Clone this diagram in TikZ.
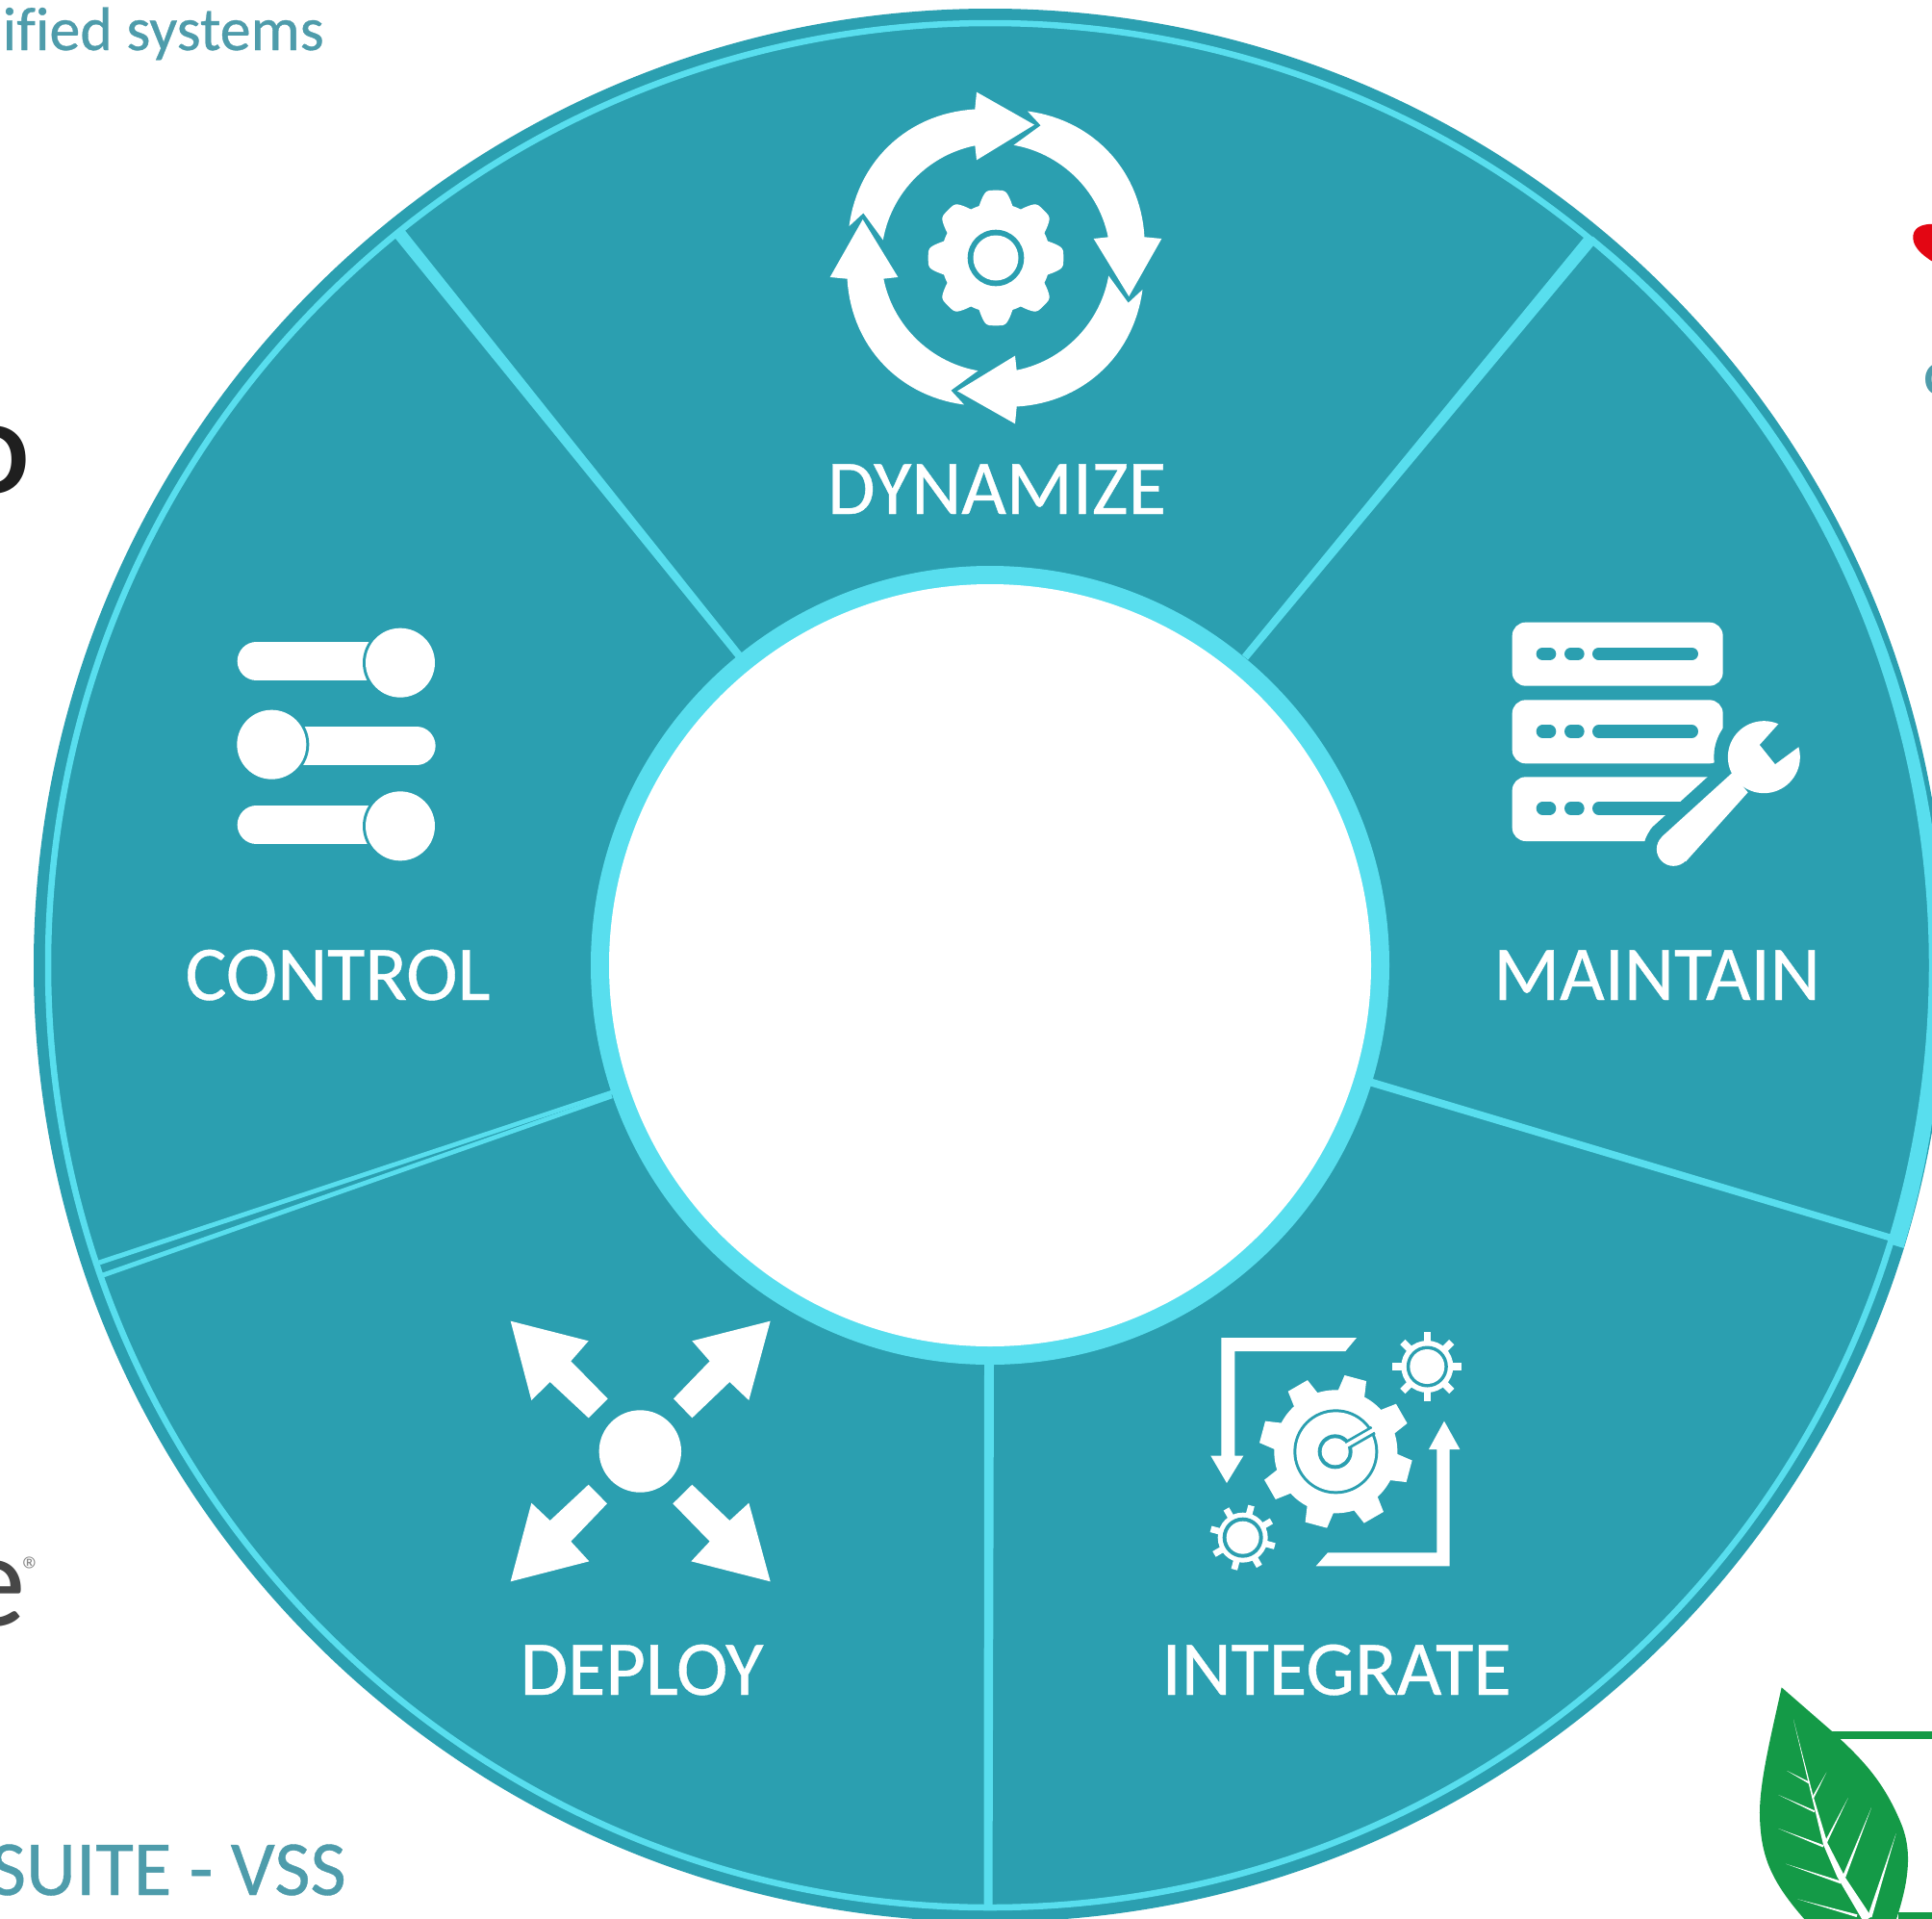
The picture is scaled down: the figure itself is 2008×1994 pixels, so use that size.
\documentclass[tikz,border=0pt]{standalone}
\usepackage{fontspec}
\usetikzlibrary{calc}
\setmainfont[Ligatures=NoCommon,FakeBold=0.5]{Carlito}
\newfontfamily\lsans{Liberation Sans}
\newfontfamily\plainc[Ligatures=NoCommon]{Carlito}
\definecolor{wheel}{HTML}{2B9FB0}
\definecolor{rim}{HTML}{58DEEE}
\definecolor{capt}{HTML}{4E9CAB}
\definecolor{leafg}{HTML}{149A47}
\definecolor{heartr}{HTML}{E30613}
\newcommand{\spokeshape}[4]{%
  \fill[rim] ($#1!#3/2!90:#2$) -- ($#2!#4/2!-90:#1$) -- ($#2!#4/2!90:#1$) -- ($#1!#3/2!-90:#2$) -- cycle;}
\newcommand{\veinshape}[5]{%
  \fill[white] (#1,#2) -- ($(#3,#4)!#5!90:(#1,#2)$) -- ($(#3,#4)!#5!-90:(#1,#2)$) -- cycle;}
\tikzset{
  wheellabel/.style={text=white,font=\fontsize{80.5}{90}\selectfont,inner sep=0pt,anchor=base},
  captiontext/.style={text=capt,inner sep=0pt,anchor=base east},
  zoomframe/.style={x=0.33333pt,y=-0.33333pt},
}
\begin{document}
\begin{tikzpicture}[x=1pt,y=1pt]
\useasboundingbox (0,0) rectangle (2008,-1994);
\clip (0,0) rectangle (2008,-1994);
\fill[white] (0,0) rectangle (2008,-1994);

% ---- cropped surroundings
\node[captiontext,font=\fontsize{64}{70}\selectfont] (capA) at (337,-52) {ified systems};
\node[captiontext,font=\fontsize{81}{90}\selectfont] (capB) at (360,-1969) {SUITE - VSS};
\node[inner sep=0pt,anchor=base east,text=black!88,font=\lsans\bfseries\fontsize{100}{110}\selectfont] (logoO) at (31,-512) {O};
\node[inner sep=0pt,anchor=base east,text=black!72,font=\plainc\fontsize{140}{150}\selectfont] (logoE) at (27,-1689) {e};
\node[inner sep=0pt,text=black!45,font=\plainc\fontsize{40}{44}\selectfont] (logoR) at (34,-1632) {®};
\node[inner sep=0pt,anchor=base west,text=capt,font=\plainc\bfseries\fontsize{50}{60}\selectfont] (capC) at (2000,-410) {C};

% heart
\begin{scope}[shift={(1900,-200)},zoomframe]
\fill[heartr] (330,98) .. controls (290,98) and (262,110) .. (265,145) .. controls (268,175) and (300,200) .. (330,218) -- cycle;
\end{scope}

% leaf
\begin{scope}[shift={(1780,-1720)},zoomframe]
\fill[leafg] (370,238) rectangle (700,262);
\fill[leafg] (580,800) rectangle (700,830);
\fill[leafg] (215,100) -- (370,235) .. controls (450,310) and (530,380) .. (590,530) .. controls (625,620) and (610,720) .. (560,860) -- (320,860) .. controls (190,720) and (150,640) .. (147,500) .. controls (145,400) and (180,260) .. (215,100) -- cycle;
\fill[white] (252,200) -- (298,395) -- (345,590) -- (388,690) -- (470,830) -- (495,815) -- (412,690) -- (358,585) -- (314,440) -- cycle;
\veinshape{232}{360}{302}{398}{1pt}
\veinshape{355}{365}{312}{445}{1pt}
\veinshape{205}{435}{318}{487}{1pt}
\veinshape{422}{445}{352}{585}{1.3pt}
\veinshape{205}{540}{345}{595}{1.2pt}
\veinshape{495}{475}{410}{690}{1.7pt}
\veinshape{228}{650}{400}{708}{1.4pt}
\veinshape{572}{555}{490}{815}{2.2pt}
\veinshape{265}{760}{450}{812}{1.4pt}
\end{scope}

% ---- wheel
\coordinate (hub) at (1029,-1003);
\fill[wheel] (hub) circle[radius=994pt];
\draw[rim,line width=6.5pt] (hub) circle[radius=979pt];
% widening rim on the right-hand sector
\fill[rim,shift={(hub)}] plot[domain=50.4:-17.2,samples=40] (\x:{983+11*(50.4-\x)/67.6}) -- plot[domain=-17.2:50.4,samples=40] (\x:977) -- cycle;

% spokes
\coordinate (s1a) at (413,-240);  \coordinate (s1b) at (768,-681);
\coordinate (s2a) at (1652,-250); \coordinate (s2b) at (1294,-683);
\coordinate (s3a) at (1968,-1287);\coordinate (s3b) at (1423,-1124);
\coordinate (s4a) at (1027,-1982);\coordinate (s4b) at (1028,-1415);
\coordinate (s5a) at (103,-1312); \coordinate (s5b) at (636,-1135);
\coordinate (s6a) at (107,-1325); \coordinate (s6b) at (636,-1139);
\spokeshape{(s1a)}{(s1b)}{13pt}{8pt}
\spokeshape{(s2a)}{(s2b)}{13pt}{8pt}
\spokeshape{(s3a)}{(s3b)}{7pt}{8pt}
\spokeshape{(s4a)}{(s4b)}{9pt}{10pt}
\spokeshape{(s5a)}{(s5b)}{5pt}{4.5pt}
\spokeshape{(s6a)}{(s6b)}{5pt}{4.5pt}

% hub disc
\fill[rim] (hub) circle[radius=415pt];
\fill[white] (hub) circle[radius=396pt];

% ---- labels
\node[wheellabel] (lblDyn) at (1036,-534) {DYNAMIZE};
\node[wheellabel] (lblCtl) at (351,-1039) {CONTROL};
\node[wheellabel] (lblMnt) at (1722,-1039) {MAINTAIN};
\node[wheellabel] (lblDep) at (667,-1761) {DEPLOY};
\node[wheellabel] (lblInt) at (1389,-1761) {INTEGRATE};

% ---- dynamize icon
\foreach \r in {0,90,180,270}{
\begin{scope}[shift={(1035,-268)},x=0.33333pt,y=0.33333pt,rotate=\r]
\fill[white] plot[domain=167.8:98,samples=30] (\x:{468+15*sin(180*(167.8-\x)/69.8)}) -- (-60,517) -- (120,415) -- (-60,305) -- plot[domain=100.5:171,samples=30] (\x:{356-2*sin(180*(\x-100.5)/70.5)}) -- (-413,140) -- cycle;
\end{scope}}
\begin{scope}[shift={(1035,-268)},x=0.33333pt,y=0.33333pt]
\fill[white,draw=white,line width=8pt,line join=round] plot[domain=0:360,samples=241] (\x:{max(158,min(199,178+34*cos(8*\x)))}) -- cycle;
\fill[wheel] (0,0) circle[radius=29.3pt];
\fill[white] (0,0) circle[radius=23.5pt];
\end{scope}

% ---- maintain icon
\begin{scope}[shift={(1530,-620)},zoomframe]
\fill[white,rounded corners=14pt] (125,80) rectangle (782,278);
\fill[white,rounded corners=14pt] (125,322) rectangle (782,520);
\fill[white,rounded corners=14pt] (125,562) rectangle (782,762);
\foreach \y in {178,420,660}{
  \draw[wheel,line width=13.3pt,line cap=round] (220,\y) -- (242,\y);
  \draw[wheel,line width=13.3pt,line cap=round] (308,\y) -- (330,\y);
  \draw[wheel,line width=13.3pt,line cap=round] (395,\y) -- (685,\y);
}
% wrench halo
\fill[wheel,draw=wheel,line width=28pt,line join=round] (810,550) -- (860,610) -- (666,826) -- (592,748) -- cycle;
\fill[wheel] (910,500) circle[radius=52pt];
\fill[wheel] (628,787) circle[radius=31pt];
% wrench
\fill[white] (910,500) circle[radius=37.5pt];
\fill[white] (810,550) -- (860,610) -- (666,826) -- (592,748) -- cycle;
\fill[white] (628,787) circle[radius=17.5pt];
\fill[wheel] (975,375) -- (897,462) -- (945,522) -- (1040,452) -- (1060,375) -- cycle;
\end{scope}

% ---- control icon
\begin{scope}[shift={(230,-630)},zoomframe]
\draw[white,line width=39.3pt,line cap=round] (109,171) -- (500,171);
\draw[white,line width=39.3pt,line cap=round] (250,435) -- (609,435);
\draw[white,line width=39.3pt,line cap=round] (109,681) -- (500,681);
\foreach \x/\y in {558/176,157/431,558/685}{
  \fill[wheel] (\x,\y) circle[radius=39pt];
  \fill[white] (\x,\y) circle[radius=36pt];
}
\end{scope}

% ---- deploy icon
\begin{scope}[shift={(510,-1350)},zoomframe]
\fill[white] (466,474) circle[radius=42.7pt];
\fill[white] (62,68) -- (305,130) -- (250,193) -- (365,310) -- (305,370) -- (185,258) -- (127,315) -- cycle;
\fill[white] (872,68) -- (628,130) -- (683,193) -- (570,310) -- (628,370) -- (745,258) -- (805,315) -- cycle;
\fill[white] (62,880) -- (307,817) -- (250,755) -- (363,637) -- (305,578) -- (185,690) -- (127,635) -- cycle;
\fill[white] (872,880) -- (625,817) -- (683,755) -- (568,637) -- (628,578) -- (745,690) -- (805,635) -- cycle;
\end{scope}

% ---- integrate icon
\begin{scope}[shift={(1230,-1360)},zoomframe]
\fill[white] (118,90) -- (540,90) -- (505,132) -- (160,132) -- (160,458) -- (187,458) -- (135,543) -- (85,458) -- (118,458) -- cycle;
\fill[white] (413,802) -- (830,802) -- (830,438) -- (862,438) -- (813,350) -- (765,438) -- (790,438) -- (790,760) -- (450,760) -- cycle;
% big gear
\foreach \k in {0,...,7}{
  \fill[white,rotate around={-15-45*\k:(475,445)}] (440,208) -- (510,208) -- (522,290) -- (428,290) -- cycle;
}
\fill[white] (475,445) circle[radius=64pt];
\fill[wheel] (475,445) circle[radius=44pt];
\fill[white] (475,445) circle[radius=41pt];
\draw[wheel,line width=9.5pt] (475,445) -- (592,378);
\fill[wheel] (473,445) circle[radius=18pt];
\draw[white,line width=4pt] (475,445) -- (600,373);
\fill[white] (473,445) circle[radius=14pt];
% small gears
\foreach \k in {0,...,7}{
  \fill[white,rotate around={-45*\k:(760,180)}] (749,72) rectangle (771,130);
  \fill[white,rotate around={-15-45*\k:(185,713)}] (175,610) rectangle (195,670);
}
\fill[white] (760,180) circle[radius=27pt];
\fill[wheel] (760,180) circle[radius=21.5pt];
\fill[white] (760,180) circle[radius=18pt];
\fill[white] (185,713) circle[radius=26pt];
\fill[wheel] (185,713) circle[radius=21pt];
\fill[white] (185,713) circle[radius=17pt];
\end{scope}
\end{tikzpicture}
\end{document}
